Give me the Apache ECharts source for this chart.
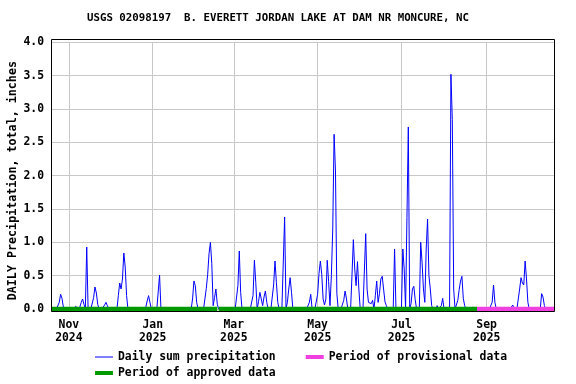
<!DOCTYPE html>
<html><head><meta charset="utf-8">
<script src="https://cdn.jsdelivr.net/npm/echarts@6/dist/echarts.min.js"></script>
<style>html,body{margin:0;padding:0;background:#fff}#c{width:576px;height:384px}</style>
</head><body><div id="c"></div>
<script>
const chartTitle = 'USGS 02098197  B. EVERETT JORDAN LAKE AT DAM NR MONCURE, NC';
const yAxisName = 'DAILY Precipitation, total, inches';
const startDate = '2024-10-19';
const endDate = '2025-10-20';
const monthNames = ['Jan','Feb','Mar','Apr','May','Jun','Jul','Aug','Sep','Oct','Nov','Dec'];

// days with measurable precipitation (all other days are 0.00)
const wetDates = [
 '2024-10-25','2024-10-26','2024-10-27','2024-10-28',
 '2024-11-06','2024-11-07','2024-11-09','2024-11-10','2024-11-11','2024-11-12',
 '2024-11-14',
 '2024-11-19','2024-11-20','2024-11-21','2024-11-22',
 '2024-11-27','2024-11-28','2024-11-29',
 '2024-12-07','2024-12-08','2024-12-09','2024-12-10','2024-12-11','2024-12-12','2024-12-13',
 '2024-12-27','2024-12-28','2024-12-29','2024-12-30',
 '2025-01-06',
 '2025-01-30','2025-01-31','2025-02-01','2025-02-02',
 '2025-02-09','2025-02-10','2025-02-11','2025-02-12','2025-02-13','2025-02-14','2025-02-15','2025-02-16','2025-02-17',
 '2025-03-04','2025-03-05','2025-03-06',
 '2025-03-15','2025-03-16','2025-03-17',
 '2025-03-19','2025-03-20','2025-03-21','2025-03-22','2025-03-23','2025-03-24','2025-03-25',
 '2025-03-30','2025-03-31','2025-04-01','2025-04-02',
 '2025-04-07','2025-04-09','2025-04-10','2025-04-11','2025-04-12',
 '2025-04-25','2025-04-26',
 '2025-05-01','2025-05-02','2025-05-03','2025-05-04','2025-05-05','2025-05-06','2025-05-07','2025-05-08',
 '2025-05-09','2025-05-10','2025-05-11','2025-05-12','2025-05-13','2025-05-14','2025-05-15',
 '2025-05-20','2025-05-21','2025-05-22',
 '2025-05-26','2025-05-27','2025-05-28','2025-05-29','2025-05-30','2025-05-31',
 '2025-06-05','2025-06-06','2025-06-07','2025-06-08','2025-06-09','2025-06-10',
 '2025-06-12','2025-06-13','2025-06-14','2025-06-15','2025-06-16','2025-06-17','2025-06-18','2025-06-19','2025-06-20',
 '2025-06-26',
 '2025-07-02','2025-07-03','2025-07-05','2025-07-06','2025-07-08','2025-07-09','2025-07-10','2025-07-11',
 '2025-07-15','2025-07-16','2025-07-17','2025-07-18','2025-07-19','2025-07-20','2025-07-21','2025-07-22','2025-07-23',
 '2025-07-27','2025-07-30','2025-07-31',
 '2025-08-06','2025-08-07','2025-08-08',
 '2025-08-11','2025-08-12','2025-08-13','2025-08-14','2025-08-15','2025-08-16',
 '2025-08-22','2025-08-23',
 '2025-09-05','2025-09-06','2025-09-07',
 '2025-09-20',
 '2025-09-25','2025-09-26','2025-09-27','2025-09-28','2025-09-29','2025-09-30','2025-10-01',
 '2025-10-11','2025-10-12','2025-10-13'
];
const wetInches = [
 0.10,0.22,0.16,0.03,
 0.04,0.02,0.03,0.10,0.15,0.07,
 0.93,
 0.17,0.33,0.24,0.07,
 0.06,0.10,0.05,
 0.20,0.39,0.30,0.45,0.84,0.63,0.20,
 0.03,0.12,0.20,0.10,
 0.51,
 0.15,0.42,0.35,0.10,
 0.31,0.52,0.83,1.00,0.68,0.05,0.17,0.30,0.07,
 0.35,0.87,0.25,
 0.20,0.73,0.40,
 0.11,0.25,0.15,0.05,0.18,0.27,0.10,
 0.36,0.72,0.40,0.10,
 1.38,0.10,0.30,0.47,0.25,
 0.10,0.22,
 0.22,0.53,0.72,0.52,0.15,0.06,0.15,0.73,
 0.41,0.05,0.50,1.20,2.62,2.07,0.23,
 0.13,0.27,0.15,
 0.50,1.04,0.60,0.35,0.71,0.30,
 1.13,0.30,0.10,0.08,0.08,0.13,
 0.20,0.42,0.10,0.23,0.45,0.49,0.30,0.11,0.05,
 0.90,
 0.90,0.60,1.37,2.73,0.08,0.30,0.34,0.14,
 1.00,0.70,0.30,0.10,0.90,1.35,0.50,0.30,0.05,
 0.05,0.05,0.16,
 3.52,2.84,0.30,
 0.13,0.29,0.42,0.49,0.16,0.05,
 0.03,0.05,
 0.10,0.36,0.10,
 0.06,
 0.30,0.47,0.39,0.36,0.72,0.45,0.10,
 0.23,0.18,0.05
];
const approvedPeriods = [['2024-10-19','2025-02-17'],['2025-02-18','2025-08-25']];
const provisionalPeriods = [['2025-08-25','2025-10-20']];

const days = [];
for (let t = Date.parse(startDate+'T00:00:00Z'); t <= Date.parse(endDate+'T00:00:00Z'); t += 86400000) {
  days.push(new Date(t).toISOString().slice(0,10));
}
const rain = days.map(d => { const i = wetDates.indexOf(d); return i >= 0 ? wetInches[i] : 0; });
const periodData = p => days.map(d => (d >= p[0] && d <= p[1]) ? 0 : null);
const isTickDay = (idx, val) => val.slice(8) === '01' && (+val.slice(5,7)) % 2 === 1;

const FONT = 'DejaVu Sans Mono';
const GREEN = '#009900', PINK = '#f040e0', BLUE = '#0000ff';

const series = [{
  name: 'Daily sum precipitation', type: 'line', data: rain, color: BLUE,
  showSymbol: false, lineStyle: { color: BLUE, width: 1 }, z: 2
}];
approvedPeriods.forEach(p => series.push({
  name: 'Period of approved data', type: 'line', data: periodData(p), color: GREEN,
  showSymbol: false, connectNulls: false, clip: false,
  lineStyle: { color: GREEN, width: 4.5, cap: 'butt' }, z: 3
}));
provisionalPeriods.forEach(p => series.push({
  name: 'Period of provisional data', type: 'line', data: periodData(p), color: PINK,
  showSymbol: false, connectNulls: false, clip: false,
  lineStyle: { color: PINK, width: 4.5, cap: 'butt' }, z: 4
}));

const legendText = { fontFamily: FONT, fontWeight: 'bold', fontSize: 11.4, color: '#000', lineHeight: 14 };
const chart = echarts.init(document.getElementById('c'), null, { renderer: 'canvas' });
chart.setOption({
  animation: false,
  backgroundColor: '#fff',
  title: { text: chartTitle, left: 87, top: 13, padding: 0,
    textStyle: { fontFamily: FONT, fontWeight: 'bold', fontSize: 10.75, color: '#000' } },
  grid: { left: 51, right: 22, top: 42.3, bottom: 75, containLabel: false, outerBoundsMode: 'none' },
  xAxis: {
    type: 'category', data: days, boundaryGap: false,
    axisLine: { show: false }, axisTick: { show: false },
    axisLabel: { interval: isTickDay, margin: 10, lineHeight: 13,
      fontFamily: FONT, fontWeight: 'bold', fontSize: 11.4, color: '#000',
      formatter: v => monthNames[+v.slice(5,7)-1] + '\n' + v.slice(0,4) },
    splitLine: { show: true, interval: isTickDay, lineStyle: { color: '#c8c8c8', width: 1 } }
  },
  yAxis: {
    type: 'value', min: 0, max: 4, interval: 0.5,
    name: yAxisName, nameLocation: 'middle', nameGap: 32, nameMoveOverlap: false,
    nameTextStyle: { fontFamily: FONT, fontWeight: 'bold', fontSize: 11.7, color: '#000', padding: [0, 10, 0, 0] },
    axisLine: { show: false }, axisTick: { show: false },
    axisLabel: { margin: 7, fontFamily: FONT, fontWeight: 'bold', fontSize: 11.4, color: '#000',
      formatter: v => v.toFixed(1) },
    splitLine: { lineStyle: { color: '#c8c8c8', width: 1 } }
  },
  legend: [{
    data: [{ name: 'Daily sum precipitation', icon: 'path://M0,0H18V1H0Z' },
           { name: 'Period of provisional data', icon: 'rect' }],
    left: 95, top: 350, padding: 0, itemWidth: 18, itemHeight: 4, itemGap: 30,
    selectedMode: false, textStyle: legendText
  }, {
    data: [{ name: 'Period of approved data', icon: 'rect' }],
    left: 95, top: 366, padding: 0, itemWidth: 18, itemHeight: 4,
    selectedMode: false, textStyle: legendText
  }],
  graphic: [{ type: 'rect', z: 100, silent: true,
    shape: { x: 51.5, y: 39.5, width: 503, height: 272 },
    style: { fill: null, stroke: '#000', lineWidth: 1 } }],
  series: series
});
</script></body></html>
